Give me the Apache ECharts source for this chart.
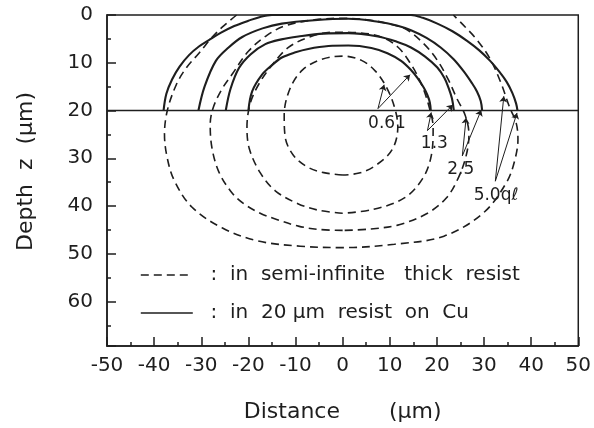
<!DOCTYPE html>
<html>
<head>
<meta charset="utf-8">
<script src="https://cdn.jsdelivr.net/npm/echarts@6/dist/echarts.min.js"></script>
<style>html,body{margin:0;padding:0;background:#fff}#c{width:594px;height:428px}</style>
</head>
<body>
<div id="c"></div>
<script>
// ---- data (x in µm, depth z in µm) ----
const contourLabels = ['0.61', '1.3', '2.5', '5.0qℓ'];

// dashed: in semi-infinite thick resist
const dashed061 = [[0,33.5],[-4,33.0],[-7.5,31.8],[-10.5,29.3],[-12.2,25.5],[-12.4,21],[-11.2,15.5],[-8.5,11.5],[-4.5,9.3],[0,8.6],[4,9.5],[7,11.8],[9.5,15.5],[11.2,20],[11.7,23.5],[10.5,28.2],[7,31.5],[3.5,33.1],[0,33.5]];
const dashed13 = [[0,41.5],[-5,40.9],[-9.5,39.5],[-14.3,36.8],[-17.5,33],[-19.8,28],[-20.3,23.5],[-19.6,18.5],[-17.8,14.5],[-15,10.5],[-11.5,6.8],[-7,4.6],[-2,3.6],[3,3.7],[8.2,4.6],[11.7,6.7],[14.3,10],[16.5,14],[18.2,18.7],[19.2,23.7],[18.8,29.5],[17,34.2],[13.1,38.3],[6.5,40.7],[0,41.5]];
const dashed25 = [[0,45.1],[-5,44.9],[-9.4,44.2],[-14,42.8],[-17.5,41.5],[-21,39.5],[-23.5,37.2],[-26.2,33],[-27.7,28],[-28.1,23],[-27.5,19.5],[-25.6,15.5],[-23.3,12.2],[-20,7.6],[-16,4.2],[-12,2.2],[-6,1.0],[0,0.7],[6,1.1],[10,1.9],[13.5,3.0],[17.2,6],[20.1,9.5],[22.4,13.5],[24.2,17.4],[26,21],[26.8,25],[26.2,29.5],[24.5,34.2],[22,38.3],[18,41.5],[12,43.9],[6,44.8],[0,45.1]];
const dashed50 = [[-22.5,0],[-25.5,2.5],[-28,5],[-30.4,7.9],[-33.2,11.1],[-35.3,14.6],[-37.2,20],[-37.8,25],[-37.2,30],[-35.7,34.7],[-32,40.2],[-25.5,44.6],[-18,47.3],[-9,48.4],[0,48.7],[11,48],[21.5,46.3],[29.9,41.4],[34.8,35],[36.5,30.5],[37.2,26],[36.8,22.5],[35.5,19.5],[33.5,14],[31.3,9.2],[28.5,5.2],[26,2.5],[23.5,0]];

// solid: in 20 µm resist on Cu
const solid061 = [[-20,20],[-19.2,16],[-17.1,12.5],[-15,10.5],[-12.9,8.9],[-10,7.8],[-7.3,7.1],[-3,6.5],[1.2,6.4],[6.1,6.9],[9.5,8.0],[12.4,9.6],[14.5,11.5],[15.9,13.2],[17.2,15.2],[18,16.8],[18.5,18.3],[18.7,20]];
const solid13 = [[-24.8,20],[-23.8,15.5],[-22,11.1],[-19.5,8.2],[-16.4,6.1],[-13,5.1],[-9.4,4.5],[-4,3.9],[1.2,3.8],[7.5,4.5],[11.5,5.6],[14.5,6.8],[17.5,8.7],[20.1,11],[21.6,13.2],[22.5,15.3],[23.2,17.5],[23.6,20]];
const solid25 = [[-30.6,20],[-29.3,15],[-26.9,9.6],[-24.2,6.8],[-21.3,4.6],[-17,2.8],[-12.9,1.8],[-6,1.1],[1.2,0.8],[7.5,1.4],[11.5,2.2],[14.5,3.2],[17.8,4.8],[20.8,6.8],[23.5,9.2],[25.7,11.8],[27.4,14.2],[28.5,16],[29.3,18],[29.6,20]];
const solid50 = [[-38,20],[-37.4,16.5],[-36.2,13.5],[-34.6,10.8],[-32.6,8.4],[-30.5,6.6],[-28.3,5.2],[-25.8,3.7],[-23,2.3],[-20,1.2],[-17.5,0.4],[-15,0],[-7.5,0],[0,0],[7.5,0],[14.5,0],[17,0.6],[20.1,1.8],[23.3,3.4],[26.4,5.4],[29,7.4],[31.3,9.6],[33.2,11.8],[34.8,14],[36,16.3],[36.8,18.5],[37.1,20]];

const resistThickness = 20; // Cu interface depth

// label anchor points [x, depth, text]
const labelPoints = [[5.4,22.8,'0.61'],[16.6,27.0,'1.3'],[22.2,32.3,'2.5'],[27.8,37.9,'5.0qℓ']];
// arrows: [from, to]
const arrowPairs = [
  [[7.5,19.6],[8.8,14.6]], [[7.5,19.6],[14.3,12.5]],
  [[18,24.2],[18.8,20.4]], [[18,24.2],[23.4,18.8]],
  [[25.4,29.5],[26.2,21.5]], [[25.4,29.5],[29.4,19.9]],
  [[32.4,34.8],[34.2,17]], [[32.4,34.8],[37,20.5]]
];

const xTicks = {min:-50, max:50, step:10};
const yTicks = {min:0, max:69.3, step:10};

const LEG_DASH = '  :  in  semi-infinite   thick  resist';
const LEG_SOLID = '  :  in  20 μm  resist  on  Cu';

const FONT = 'DejaVu Sans';
const INK = '#1e1e1e';

function dashedSeries(d){
  return {name: LEG_DASH, type:'line', data:d, symbol:'none', smooth:0.35, color:INK,
    lineStyle:{color:INK, width:1.6, type:[8,5]}, z:2, silent:true};
}
function solidSeries(d, extra){
  return Object.assign({name: LEG_SOLID, type:'line', data:d, symbol:'none', smooth:0.35, color:INK,
    lineStyle:{color:INK, width:2.1, type:'solid'}, z:3, silent:true}, extra||{});
}

const chart = echarts.init(document.getElementById('c'), null, {renderer:'canvas'});
chart.setOption({
  animation:false,
  backgroundColor:'#fff',
  textStyle:{fontFamily:FONT, color:INK},
  grid:{left:107, right:12, top:15, bottom:82, show:true, borderColor:INK, borderWidth:1.5, backgroundColor:'transparent'},
  legend:{
    data:[LEG_DASH, LEG_SOLID], orient:'vertical', left:140, top:265, padding:0,
    itemWidth:52, itemHeight:14, itemGap:18, selectedMode:false,
    textStyle:{fontFamily:FONT, fontSize:20, lineHeight:20, color:INK},
    itemStyle:{opacity:0},
    lineStyle:{width:1.6}
  },
  xAxis:{
    type:'value', min:xTicks.min, max:xTicks.max, interval:xTicks.step,
    name:'Distance       (μm)', nameLocation:'middle', nameGap:55,
    nameTextStyle:{fontFamily:FONT, fontSize:22, color:INK},
    axisLine:{onZero:false, lineStyle:{color:INK, width:1.5}},
    axisTick:{inside:true, length:9, lineStyle:{color:INK, width:1.5}},
    minorTick:{show:true, splitNumber:2, length:4, lineStyle:{color:INK, width:1.5}},
    splitLine:{show:false},
    axisLabel:{fontFamily:FONT, fontSize:20, color:INK, margin:10}
  },
  yAxis:{
    type:'value', inverse:true, min:yTicks.min, max:yTicks.max, interval:yTicks.step,
    name:'Depth  z  (μm)', nameLocation:'middle', nameGap:70, nameRotate:90,
    nameTextStyle:{fontFamily:FONT, fontSize:22, color:INK, padding:[0,0,0,18]},
    axisLine:{onZero:false, lineStyle:{color:INK, width:1.5}},
    axisTick:{inside:true, length:9, lineStyle:{color:INK, width:1.5}},
    minorTick:{show:true, splitNumber:2, length:4, lineStyle:{color:INK, width:1.5}},
    splitLine:{show:false},
    axisLabel:{fontFamily:FONT, fontSize:20, color:INK, margin:14, showMaxLabel:false,
      formatter:v=>(v%10===0?String(v):'')}
  },
  series:[
    dashedSeries(dashed061), dashedSeries(dashed13), dashedSeries(dashed25), dashedSeries(dashed50),
    solidSeries(solid061, {markLine:{silent:true, symbol:'none', label:{show:false},
      lineStyle:{color:INK, width:1.3, type:'solid'}, data:[{yAxis:resistThickness}]}}),
    solidSeries(solid13), solidSeries(solid25), solidSeries(solid50),
    {type:'lines', coordinateSystem:'cartesian2d', silent:true, z:4,
      symbol:['none','arrow'], symbolSize:6,
      lineStyle:{color:INK, width:1, opacity:1},
      data:arrowPairs.map(p=>({coords:p}))},
    {type:'scatter', silent:true, symbolSize:0, z:5,
      itemStyle:{opacity:1, color:INK},
      data:labelPoints.map(p=>({value:[p[0],p[1]], name:p[2]})),
      label:{show:true, position:'right', distance:0, formatter:p=>p.name, opacity:1,
        fontFamily:FONT, fontSize:17, color:INK}}
  ]
});
</script>
</body>
</html>
